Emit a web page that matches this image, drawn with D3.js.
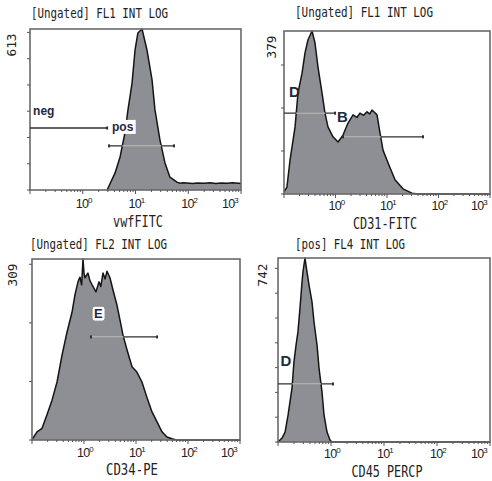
<!DOCTYPE html>
<html>
<head>
<meta charset="utf-8">
<script src="https://cdn.jsdelivr.net/npm/d3@7"></script>
<style>
body { margin: 0; background: #fff; }
</style>
</head>
<body>
<svg id="chart" width="492" height="481"></svg>
<script>
// histogramas: intensidad (escala log) y eventos
var vwfX = [2.9, 4.1, 5.1, 6.3, 7.2, 8.6, 9.8, 11.1, 13.3, 16.5, 20.6, 23.4, 29.1, 36.2, 45, 61, 70, 80, 95, 120, 150, 200, 260, 330, 420, 540, 700, 900, 1000];
var vwfY = [0, 65, 126, 217, 305, 407, 533, 598, 613, 533, 419, 305, 190, 103, 49, 30, 26, 28, 27, 25, 27, 26, 28, 25, 27, 26, 28, 26, 25];

var cd31X = [0.1, 0.114, 0.131, 0.164, 0.187, 0.224, 0.256, 0.292, 0.35, 0.40, 0.457, 0.547, 0.625, 0.714, 0.893, 1.12, 1.40, 1.75, 2.19, 2.6, 2.99, 3.5, 4.09, 4.6, 5.11, 5.7, 6.40, 7.31, 8.36, 10.5, 14.3, 20.4, 30.5, 40, 1000];
var cd31Y = [5, 16, 79, 156, 235, 281, 328, 358, 379, 351, 295, 235, 188, 156, 133, 121, 137, 165, 184, 178, 188, 183, 191, 186, 195, 190, 184, 142, 102, 72, 33, 12, 2, 0, 0];

var cd34X = [0.1, 0.104, 0.125, 0.156, 0.194, 0.243, 0.303, 0.378, 0.471, 0.588, 0.671, 0.767, 0.837, 0.90, 0.957, 1.0, 1.045, 1.19, 1.3, 1.43, 1.70, 1.94, 2.1, 2.32, 2.55, 2.77, 3.16, 3.61, 4.31, 4.92, 5.62, 6.71, 8.38, 10.4, 13.0, 16.3, 20.3, 25.4, 31.6, 39.4, 49.2, 60, 1000];
var cd34Y = [0, 3, 14, 20, 43, 68, 99, 145, 184, 218, 248, 270, 278, 265, 309, 285, 277, 285, 272, 265, 253, 270, 262, 285, 275, 288, 277, 256, 230, 205, 179, 154, 125, 116, 99, 72, 48, 31, 14, 5, 2, 0, 0];

var cd45X = [0.1, 0.119, 0.136, 0.155, 0.184, 0.200, 0.219, 0.238, 0.260, 0.284, 0.296, 0.323, 0.352, 0.385, 0.438, 0.478, 0.545, 0.594, 0.676, 0.738, 0.841, 0.958, 1.04, 1000];
var cd45Y = [0, 16, 40, 109, 218, 323, 391, 444, 540, 645, 686, 742, 686, 633, 565, 484, 391, 298, 202, 109, 40, 8, 0, 0];

// maximos del eje y
var yMaxes = [613, 379, 309, 742];
var titles = ["[Ungated] FL1 INT LOG", "[Ungated] FL1 INT LOG", "[Ungated] FL2 INT LOG", "[pos] FL4 INT LOG"];
var axisTitles = ["vwfFITC", "CD31-FITC", "CD34-PE", "CD45 PERCP"];
var decades = [0, 1, 2, 3];

// marcadores: desde, hasta, altura (eventos)
var vwfGates = [[0.1, 2.9, 236], [3.15, 53.7, 168]];
var cd31Gates = [[0.1, 0.98, 188], [1.40, 50, 133]];
var cd34Gates = [[1.36, 25.4, 176]];
var cd45Gates = [[0.1, 1.09, 234]];

// etiquetas de marcadores: texto, intensidad, eventos
var vwfTags = [["neg", 0.105, 286], ["pos", 3.29, 225]];
var cd31Tags = [["D", 0.114, 226], ["B", 0.98, 167]];
var cd34Tags = [["E", 1.43, 208]];
var cd45Tags = [["D", 0.102, 306]];

var svg = d3.select("#chart");
var mono = "'DejaVu Sans Mono', monospace";
var sans = "'Liberation Sans', Arial, sans-serif";

var panels = [
  { box: [30, 29, 241, 190], xs: vwfX, ys: vwfY, gates: vwfGates, tags: vwfTags,
    title: [31, 18, 137], yLab: [11, 45], tickBase: 208, axis: [138, 227, 50], tagSize: 12 },
  { box: [284, 31, 490, 194], xs: cd31X, ys: cd31Y, gates: cd31Gates, tags: cd31Tags,
    title: [295, 17, 138], yLab: [271, 47], tickBase: 210, axis: [385, 229, 64], tagSize: 15 },
  { box: [32, 259, 240, 440], xs: cd34X, ys: cd34Y, gates: cd34Gates, tags: cd34Tags,
    title: [30, 249, 137], yLab: [12, 275], tickBase: 457, axis: [132, 475, 52], tagSize: 13 },
  { box: [278, 258, 490, 442], xs: cd45X, ys: cd45Y, gates: cd45Gates, tags: cd45Tags,
    title: [295, 249, 110], yLab: [262, 275], tickBase: 458, axis: [387, 477, 71], tagSize: 15 }
];

panels.forEach(function(p, i) {
  var left = p.box[0], top = p.box[1], right = p.box[2], bottom = p.box[3];
  var x = d3.scaleLog().domain([0.1, 1000]).range([left, right]);
  var y = d3.scaleLinear().domain([0, yMaxes[i]]).range([bottom, top]);
  var g = svg.append("g");

  var pts = p.xs.map(function(v, k) { return [v, p.ys[k]]; });
  var area = d3.area()
    .x(function(d) { return x(d[0]); })
    .y0(bottom)
    .y1(function(d) { return y(d[1]); });
  var line = d3.line()
    .x(function(d) { return x(d[0]); })
    .y(function(d) { return y(d[1]); });

  // clip para la zona rellena
  svg.append("clipPath").attr("id", "fill" + i)
    .append("path").attr("d", area(pts));

  g.append("path")
    .attr("d", area(pts))
    .attr("fill", "#8e8f94");
  g.append("path")
    .attr("d", line(pts))
    .attr("fill", "none")
    .attr("stroke", "#151515")
    .attr("stroke-width", 1.5)
    .attr("stroke-linejoin", "round");

  // caja
  g.append("rect")
    .attr("x", left).attr("y", top)
    .attr("width", right - left).attr("height", bottom - top)
    .attr("fill", "none")
    .attr("stroke", "#6a6a6a")
    .attr("stroke-width", 1.6);

  // ticks y cada 100
  var yt = d3.range(0, yMaxes[i] + 1, 100);
  g.selectAll(".yt").data(yt).enter().append("line")
    .attr("x1", left - 3).attr("x2", left)
    .attr("y1", function(d) { return y(d); })
    .attr("y2", function(d) { return y(d); })
    .attr("stroke", "#555").attr("stroke-width", 1);

  // ticks x log
  var xt = x.ticks();
  g.selectAll(".xt").data(xt).enter().append("line")
    .attr("x1", function(d) { return x(d); })
    .attr("x2", function(d) { return x(d); })
    .attr("y1", bottom)
    .attr("y2", function(d) {
      var e = Math.log10(d);
      return bottom + (Math.abs(e - Math.round(e)) < 1e-6 ? 4 : 2);
    })
    .attr("stroke", "#555").attr("stroke-width", 1);

  // etiquetas 10^n
  decades.forEach(function(e) {
    var last = e === 3;
    var t = g.append("text")
      .attr("x", last ? right - 3 : x(Math.pow(10, e)) + 1)
      .attr("y", p.tickBase)
      .attr("text-anchor", last ? "end" : "middle")
      .attr("font-family", sans)
      .attr("font-size", 12.5)
      .attr("letter-spacing", -0.8)
      .attr("fill", "#222");
    t.append("tspan").text("10");
    t.append("tspan").attr("dy", -5).attr("font-size", 8).text(e);
  });

  // marcadores
  p.gates.forEach(function(gt) {
    var x1 = x(gt[0]), x2 = x(gt[1]), yy = y(gt[2]);
    g.append("line")
      .attr("x1", x1).attr("x2", x2).attr("y1", yy).attr("y2", yy)
      .attr("stroke", "#2e2e2e").attr("stroke-width", 1.3);
    g.append("line")
      .attr("x1", x1).attr("x2", x2).attr("y1", yy).attr("y2", yy)
      .attr("stroke", "#d4d4d4").attr("stroke-width", 1.3)
      .attr("clip-path", "url(#fill" + i + ")");
    [x1, x2].forEach(function(xx) {
      if (xx <= left + 1) return;
      g.append("rect")
        .attr("x", xx - 1).attr("y", yy - 1.5)
        .attr("width", 2).attr("height", 3)
        .attr("fill", "#2e2e2e");
    });
  });

  p.tags.forEach(function(tg) {
    var tx = x(tg[1]), ty = y(tg[2]);
    var t = g.append("text")
      .attr("x", tx + 2).attr("y", ty)
      .attr("font-family", sans)
      .attr("font-weight", "bold")
      .attr("font-size", p.tagSize)
      .attr("fill", "#1d2a40")
      .text(tg[0]);
    if (tg[0] === "pos" || tg[0] === "E") {
      var bb = t.node().getBBox();
      g.insert("rect", function() { return t.node(); })
        .attr("x", bb.x - 2).attr("y", bb.y)
        .attr("width", bb.width + 4).attr("height", bb.height)
        .attr("rx", tg[0] === "E" ? 3 : 0)
        .attr("fill", "#fff")
        .attr("stroke", tg[0] === "E" ? "#888" : "none");
    }
  });

  // textos
  g.append("text")
    .attr("x", p.title[0]).attr("y", p.title[1])
    .attr("font-family", mono).attr("font-size", 14.5)
    .attr("textLength", p.title[2]).attr("lengthAdjust", "spacingAndGlyphs")
    .attr("fill", "#222")
    .text(titles[i]);

  g.append("text")
    .attr("transform", "translate(" + p.yLab[0] + "," + p.yLab[1] + ") rotate(-90)")
    .attr("text-anchor", "middle")
    .attr("dy", "0.35em")
    .attr("font-family", mono).attr("font-size", 13)
    .attr("textLength", 23).attr("lengthAdjust", "spacingAndGlyphs")
    .attr("fill", "#222")
    .text(yMaxes[i]);

  g.append("text")
    .attr("x", p.axis[0]).attr("y", p.axis[1])
    .attr("text-anchor", "middle")
    .attr("font-family", mono).attr("font-size", 15)
    .attr("textLength", p.axis[2]).attr("lengthAdjust", "spacingAndGlyphs")
    .attr("fill", "#222")
    .text(axisTitles[i]);
});
</script>
</body>
</html>
